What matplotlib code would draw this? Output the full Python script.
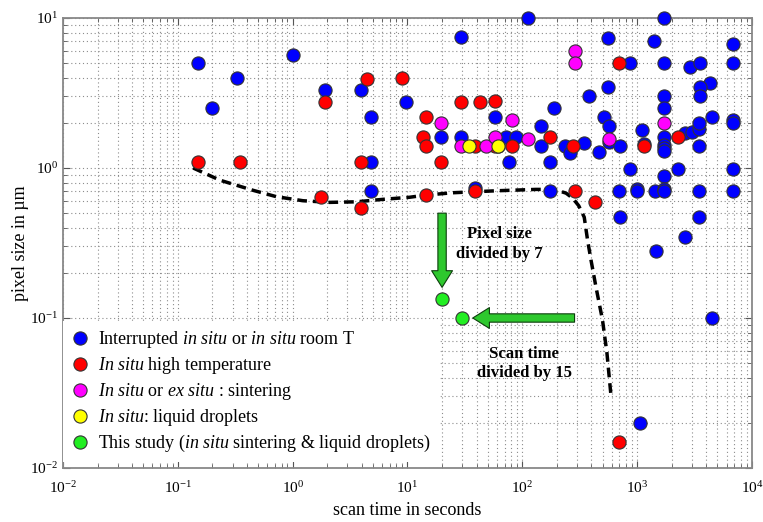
import matplotlib
matplotlib.use("Agg")
import matplotlib.pyplot as plt
from matplotlib.lines import Line2D
from matplotlib.ticker import NullFormatter, LogLocator, FixedLocator

plt.rcParams['font.family'] = ['Liberation Serif', 'DejaVu Serif']
plt.rcParams['mathtext.fontset'] = 'custom'
plt.rcParams['mathtext.rm'] = 'Liberation Serif'
plt.rcParams['mathtext.it'] = 'Liberation Serif:italic'
plt.rcParams['mathtext.bf'] = 'Liberation Serif:bold'

# ---------------- data ----------------
x_ticks = [1e-2, 1e-1, 1e0, 1e1, 1e2, 1e3, 1e4]
x_ticklabels = [r"$10^{-2}$", r"$10^{-1}$", r"$10^{0}$", r"$10^{1}$", r"$10^{2}$", r"$10^{3}$", r"$10^{4}$"]
y_ticks = [1e-2, 1e-1, 1e0, 1e1]
y_ticklabels = [r"$10^{-2}$", r"$10^{-1}$", r"$10^{0}$", r"$10^{1}$"]

blue_x = [0.15, 0.33, 0.2, 1.0, 1.9, 3.9, 9.8, 4.8, 4.8, 4.8, 29, 19.5, 29, 58, 72, 88, 76, 38.6,
          111, 1700, 560, 1400, 6800, 870, 1700, 2900, 3500, 6800, 4300, 3500, 560, 3500, 380,
          1700, 1700, 190, 516, 571, 4500, 6800, 6800, 145, 1100, 1700, 2600, 3000, 3450, 3450,
          145, 237, 258, 346, 461, 571, 710, 1150, 1700, 1700, 1700, 3450, 175, 860, 1700, 2290,
          6800, 175, 688, 1006, 1006, 1420, 1700, 1700, 3450, 6800, 710, 3450, 2600, 1450, 4500, 1050]
blue_y = [5.0, 4.0, 2.5, 5.7, 3.3, 3.3, 2.75, 2.2, 1.1, 0.7, 7.5, 1.6, 1.6, 2.2, 1.6, 1.6, 1.1, 0.74,
          10, 10, 7.4, 7.0, 6.7, 5.0, 5.0, 4.7, 5.0, 5.0, 3.7, 3.45, 3.45, 3.0, 3.0,
          3.0, 2.5, 2.5, 2.2, 1.9, 2.2, 2.09, 2.0, 1.9, 1.8, 1.6, 1.7, 1.74, 1.81, 2.0,
          1.4, 1.4, 1.26, 1.47, 1.27, 1.5, 1.4, 1.45, 1.42, 1.36, 1.3, 1.4, 1.1, 0.98, 0.89, 0.98,
          0.98, 0.7, 0.7, 0.73, 0.7, 0.7, 0.73, 0.7, 0.7, 0.7, 0.47, 0.47, 0.345, 0.28, 0.1, 0.02]

red_x = [0.15, 0.35, 1.9, 4.4, 9, 14.5, 13.6, 14.5, 3.9, 19.5, 1.78, 3.9, 14.5, 38.6, 29, 43, 58,
         39, 62, 58, 81, 175, 275, 690, 2250, 1150, 287, 431, 690]
red_y = [1.1, 1.1, 2.75, 3.9, 4.0, 2.2, 1.6, 1.4, 1.1, 1.1, 0.644, 0.54, 0.66, 0.7, 2.75, 2.75, 2.8,
         1.4, 1.4, 1.4, 1.4, 1.6, 1.4, 5.0, 1.6, 1.4, 0.7, 0.59, 0.015]

mag_x = [19.5, 81, 29, 48, 58, 111, 290, 290, 571, 1700]
mag_y = [2.0, 2.08, 1.4, 1.4, 1.6, 1.55, 6.0, 5.0, 1.55, 2.0]

yel_x = [34.6, 62]
yel_y = [1.4, 1.4]

green_x = [20, 30]
green_y = [0.133, 0.1]

curve_x = [0.136, 0.232, 0.452, 0.72, 1.23, 2.1, 3.58, 6.1, 10.4, 14.5, 24.8, 59.5, 131, 190,
           240, 274, 310, 346, 370, 396, 437, 499, 546, 590]
curve_y = [1.0, 0.83, 0.71, 0.644, 0.605, 0.59, 0.595, 0.618, 0.638, 0.66, 0.684, 0.705, 0.72, 0.72,
           0.68, 0.63, 0.56, 0.47, 0.33, 0.244, 0.162, 0.097, 0.058, 0.031]

labels = [r"Interrupted $\it{in\ situ}$ or $\it{in\ situ}$ room T",
          r"$\it{In\ situ}$ high temperature",
          r"$\it{In\ situ}$ or $\it{ex\ situ}$ : sintering",
          r"$\it{In\ situ}$: liquid droplets",
          r"This study ($\it{in\ situ}$ sintering & liquid droplets)"]
colors = ['#0000ff', '#ff0000', '#ff00ff', '#ffff00', '#22ee22']

# ---------------- figure ----------------
fig = plt.figure(figsize=(7.63, 5.22), dpi=100)
ax = fig.add_axes([63/763, 1-468/522, (752-63)/763, (468-18)/522])
ax.set_xscale('log')
ax.set_yscale('log')
ax.set_xlim(1e-2, 1e4)
ax.set_ylim(1e-2, 1e1)
ax.set_xticks(x_ticks)
ax.set_xticklabels(x_ticklabels)
ax.set_yticks(y_ticks)
ax.set_yticklabels(y_ticklabels)
for axis in (ax.xaxis, ax.yaxis):
    axis.set_minor_locator(LogLocator(base=10, subs=range(2, 10), numticks=20))
    axis.set_minor_formatter(NullFormatter())

ax.grid(True, which='both', linestyle=(0, (1, 2.5)), color='#8c8c8c', linewidth=0.8)
ax.set_axisbelow(True)

ax.plot(curve_x, curve_y, color='black', lw=2.5, linestyle=(0, (2.8, 1.7)), zorder=2)

ms = 90
ec = '#333333'
for xs, ys, c, z in [(blue_x, blue_y, colors[0], 3), (red_x, red_y, colors[1], 4),
                     (mag_x, mag_y, colors[2], 5), (yel_x, yel_y, colors[3], 6),
                     (green_x, green_y, colors[4], 7)]:
    ax.scatter(xs, ys, s=ms, c=c, edgecolors=ec, linewidths=0.8, zorder=z, clip_on=False)

arrow_kw = dict(arrowstyle='simple,head_width=0.75,head_length=0.6,tail_width=0.3',
                fc='#2ec82e', ec='#0d3d0d', lw=0.8, shrinkA=0, shrinkB=0,
                mutation_scale=20)
ax.annotate('', xy=(20, 0.16), xytext=(20, 0.5), arrowprops=arrow_kw, zorder=8)
ax.annotate('', xy=(37, 0.1), xytext=(285, 0.1), arrowprops=arrow_kw, zorder=8)

ax.text(63, 0.31, "Pixel size\ndivided by 7", ha='center', va='center',
        fontsize=12, fontweight='bold', linespacing=1.3, zorder=9)
ax.text(104, 0.0497, "Scan time\ndivided by 15", ha='center', va='center',
        fontsize=12, fontweight='bold', linespacing=1.3, zorder=9)

ax.set_xlabel("scan time in seconds", fontsize=13, labelpad=4)
ax.set_ylabel("pixel size in µm", fontsize=13, labelpad=1)

ax.tick_params(which='both', direction='in', top=True, right=True, labelsize=11,
               color='#555555')
ax.tick_params(axis='x', which='major', pad=9)
ax.tick_params(which='major', length=5)
ax.tick_params(which='minor', length=3)
for s in ax.spines.values():
    s.set_color('#888888')
    s.set_linewidth(1.3)

handles = [Line2D([], [], marker='o', linestyle='none', markersize=9.5,
                  markerfacecolor=c, markeredgecolor=ec, markeredgewidth=0.8) for c in colors]
leg = ax.legend(handles, labels, loc='upper left', bbox_to_anchor=(0, 0.327),
                borderaxespad=0, frameon=True, fancybox=False, fontsize=13,
                handlelength=1.0, handletextpad=0.5, labelspacing=0.28, borderpad=0.45)
leg.get_frame().set_facecolor('white')
leg.get_frame().set_edgecolor('none')
leg.get_frame().set_alpha(1)
leg.set_zorder(10)

fig.savefig("out.png", dpi=100)
